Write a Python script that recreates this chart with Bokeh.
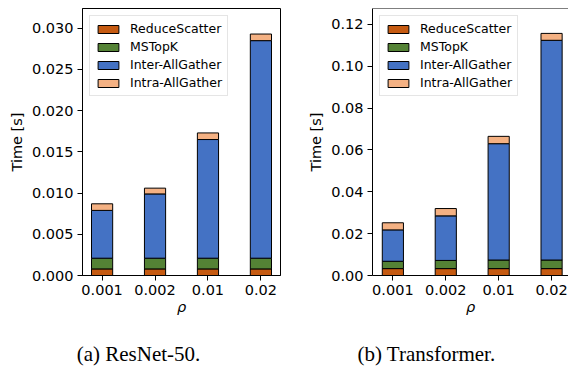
from bokeh.plotting import figure
from bokeh.layouts import row, column
from bokeh.models import (Range1d, FixedTicker, NumeralTickFormatter, Legend, LegendItem,
                          Label, Span, ColumnDataSource)
from bokeh.embed import file_html
from bokeh.resources import INLINE

rho = ["0.001", "0.002", "0.01", "0.02"]
series = ["ReduceScatter", "MSTopK", "Inter-AllGather", "Intra-AllGather"]
colors = ["#c55a11", "#548235", "#4472c4", "#f4b183"]
captions = ["(a) ResNet-50.", "(b) Transformer."]

# ResNet-50 (segment heights, seconds)
resnet_reduce = [0.0008, 0.0008, 0.0008, 0.0008]
resnet_mstopk = [0.0013, 0.0013, 0.0013, 0.0013]
resnet_inter = [0.0058, 0.0078, 0.0144, 0.0264]
resnet_intra = [0.0008, 0.0007, 0.0008, 0.0008]
resnet_yticks = [0.0, 0.005, 0.010, 0.015, 0.020, 0.025, 0.030]

# Transformer
trans_reduce = [0.0033, 0.0033, 0.0033, 0.0033]
trans_mstopk = [0.0035, 0.0039, 0.0041, 0.0041]
trans_inter = [0.0150, 0.0213, 0.0556, 0.1050]
trans_intra = [0.0034, 0.0035, 0.0035, 0.0033]
trans_yticks = [0.0, 0.02, 0.04, 0.06, 0.08, 0.10, 0.12]

FONT = "DejaVu Sans"
H_MAIN = 330
H_CAP = 37


def make(width, mbl, mbr, xr, yr, yticks, yfmt, vals):
    xs = list(range(len(rho)))
    src = ColumnDataSource(dict(x=xs, **{s: v for s, v in zip(series, vals)}))
    p = figure(width=width, height=H_MAIN, output_backend="svg", toolbar_location=None,
               x_range=Range1d(*xr), y_range=Range1d(*yr),
               min_border_left=mbl, min_border_right=mbr, min_border_top=8,
               min_border_bottom=55)
    rs = p.vbar_stack(series, x="x", width=0.4, source=src, fill_color=colors,
                      line_color="black", line_width=1)
    p.xgrid.visible = False
    p.ygrid.visible = False
    p.background_fill_color = "white"
    p.border_fill_color = "white"
    p.outline_line_color = "black"
    p.outline_line_width = 1

    for ax in (p.xaxis[0], p.yaxis[0]):
        ax.axis_line_color = "black"
        ax.major_tick_line_color = "black"
        ax.major_tick_out = 5
        ax.major_tick_in = 0
        ax.minor_tick_line_color = None
        ax.major_label_text_font = FONT
        ax.major_label_text_font_size = "14.5px"
        ax.major_label_text_color = "black"
        ax.major_label_standoff = 4
        ax.axis_label_text_font = FONT
        ax.axis_label_text_font_size = "14.5px"
        ax.axis_label_text_color = "black"

    p.xaxis.ticker = FixedTicker(ticks=xs)
    p.xaxis.major_label_overrides = {i: r for i, r in enumerate(rho)}
    p.xaxis.axis_label = "ρ"
    p.xaxis.axis_label_text_font_style = "italic"
    p.xaxis.axis_label_standoff = 1

    p.yaxis.ticker = FixedTicker(ticks=yticks)
    p.yaxis.formatter = NumeralTickFormatter(format=yfmt)
    p.yaxis.axis_label = "Time [s]"
    p.yaxis.axis_label_text_font_style = "normal"
    p.yaxis.axis_label_standoff = 4

    legend = Legend(items=[LegendItem(label=s, renderers=[r]) for s, r in zip(series, rs)],
                    location="top_left", margin=7, padding=5, spacing=3,
                    glyph_width=26, glyph_height=10, label_height=15,
                    label_standoff=9,
                    label_text_font=FONT, label_text_font_size="12.5px",
                    label_text_color="black",
                    border_line_color="#cccccc", border_line_width=1,
                    background_fill_alpha=0.8)
    p.add_layout(legend)
    return p


def make_caption(width, text, cx):
    c = figure(width=width, height=H_CAP, output_backend="svg", toolbar_location=None,
               min_border=0, x_range=Range1d(0, 1), y_range=Range1d(0, 1))
    c.axis.visible = False
    c.grid.visible = False
    c.outline_line_color = None
    c.background_fill_color = "white"
    c.border_fill_color = "white"
    c.add_layout(Label(text=text, x=cx, y=14, x_units="screen", y_units="screen",
                       text_align="center", text_baseline="alphabetic",
                       text_font="Liberation Serif", text_font_size="21px",
                       text_color="black"))
    return c


p1 = make(290, 82, 10, (-0.37, 3.37), (0, 0.0324), resnet_yticks, "0.000",
          [resnet_reduce, resnet_mstopk, resnet_inter, resnet_intra])
p2 = make(278, 82, 0, (-0.385, 3.32), (0, 0.1276), trans_yticks, "0.00",
          [trans_reduce, trans_mstopk, trans_inter, trans_intra])
p2.outline_line_color = None
p2.add_layout(Span(location=0.1276, dimension="width", line_color="black", line_width=1))

c1 = make_caption(290, captions[0], 138)
c2 = make_caption(278, captions[1], 136)

layout = column(row(p1, p2), row(c1, c2))
open("out.html", "w").write(file_html(layout, INLINE))
